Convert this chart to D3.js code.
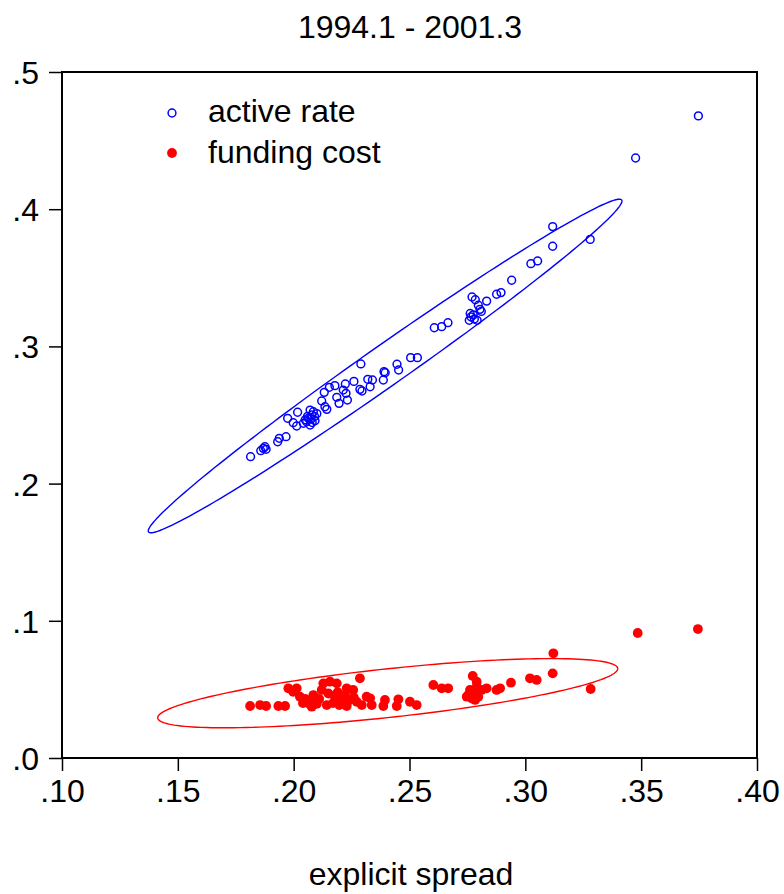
<!DOCTYPE html>
<html>
<head>
<meta charset="utf-8">
<script src="https://cdn.jsdelivr.net/npm/d3@7"></script>
<style>
  body { margin: 0; background: #fff; }
  text { font-family: "Liberation Sans", Arial, sans-serif; }
</style>
</head>
<body>
<div id="chart"></div>
<script>
// Scatter of active rate and funding cost against explicit spread
const title = "1994.1 - 2001.3";
const xLabel = "explicit spread";
const xTicks = [0.10, 0.15, 0.20, 0.25, 0.30, 0.35, 0.40];
const yTicks = [0.0, 0.1, 0.2, 0.3, 0.4, 0.5];

// [explicit spread, active rate]
const activeRate = [
    [0.3118, 0.3873], [0.3280, 0.3780], [0.3118, 0.3730], [0.3024, 0.3603], [0.3053, 0.3623],
    [0.2941, 0.3482], [0.2876, 0.3380], [0.2895, 0.3392],
    [0.2770, 0.3360], [0.2784, 0.3340], [0.2833, 0.3330], [0.2797, 0.3300], [0.2804, 0.3270],
    [0.2810, 0.3255], [0.2762, 0.3240], [0.2766, 0.3215], [0.2758, 0.3190], [0.2780, 0.3200],
    [0.2792, 0.3190], [0.2775, 0.3230],
    [0.2607, 0.3136], [0.2639, 0.3144], [0.2666, 0.3173],
    [0.2505, 0.2918], [0.2534, 0.2918], [0.2446, 0.2870], [0.2453, 0.2828], [0.2290, 0.2872],
    [0.2390, 0.2816], [0.2395, 0.2808], [0.2387, 0.2755], [0.2320, 0.2760], [0.2340, 0.2755],
    [0.2330, 0.2706], [0.2260, 0.2745], [0.2286, 0.2687], [0.2295, 0.2675], [0.2223, 0.2726],
    [0.2178, 0.2714], [0.2154, 0.2702], [0.2132, 0.2665], [0.2214, 0.2682], [0.2226, 0.2658],
    [0.2186, 0.2629], [0.2232, 0.2609], [0.2196, 0.2585], [0.2121, 0.2602], [0.2143, 0.2541],
    [0.2135, 0.2560], [0.2017, 0.2520], [0.2071, 0.2536], [0.2085, 0.2524], [0.2078, 0.2500],
    [0.2063, 0.2476], [0.2056, 0.2451], [0.2071, 0.2427], [0.2092, 0.2459], [0.2042, 0.2440],
    [0.2013, 0.2420], [0.1998, 0.2444], [0.1974, 0.2476],
    [0.2060, 0.2490], [0.2075, 0.2470], [0.2090, 0.2490], [0.2050, 0.2465], [0.2100, 0.2510],
    [0.2080, 0.2445],
    [0.1967, 0.2342], [0.1938, 0.2330], [0.1931, 0.2305],
    [0.1876, 0.2269], [0.1869, 0.2257], [0.1858, 0.2240], [0.1881, 0.2250], [0.1814, 0.2196],
    [0.3476, 0.4373], [0.3747, 0.4680]
];

// [explicit spread, funding cost]
const fundingCost = [
    [0.3121, 0.0763], [0.3118, 0.0617], [0.3282, 0.0503], [0.3020, 0.0581], [0.3049, 0.0569],
    [0.2938, 0.0549], [0.2891, 0.0508], [0.2876, 0.0496],
    [0.2773, 0.0598], [0.2790, 0.0556], [0.2833, 0.0508], [0.2812, 0.0496], [0.2761, 0.0496],
    [0.2754, 0.0459], [0.2768, 0.0435], [0.2783, 0.0423], [0.2797, 0.0447], [0.2747, 0.0447],
    [0.2776, 0.0483], [0.2790, 0.0520],
    [0.2603, 0.0532], [0.2639, 0.0508], [0.2667, 0.0508], [0.2531, 0.0386], [0.2502, 0.0410],
    [0.2452, 0.0428], [0.2445, 0.0379], [0.2394, 0.0423], [0.2387, 0.0379],
    [0.2330, 0.0435], [0.2337, 0.0386], [0.2315, 0.0447], [0.2286, 0.0581], [0.2257, 0.0496],
    [0.2294, 0.0386], [0.2272, 0.0410],
    [0.2229, 0.0508], [0.2222, 0.0459], [0.2207, 0.0423], [0.2229, 0.0379], [0.2197, 0.0386],
    [0.2186, 0.0544], [0.2157, 0.0556], [0.2128, 0.0544], [0.2121, 0.0496], [0.2143, 0.0386],
    [0.2178, 0.0447],
    [0.2150, 0.0470], [0.2200, 0.0440], [0.2240, 0.0420], [0.2110, 0.0430], [0.2170, 0.0400],
    [0.2260, 0.0440], [0.2040, 0.0400], [0.2190, 0.0480],
    [0.2085, 0.0459], [0.2099, 0.0423], [0.2063, 0.0399], [0.2078, 0.0374], [0.2049, 0.0423],
    [0.2027, 0.0447],
    [0.2060, 0.0420], [0.2075, 0.0400], [0.2090, 0.0410], [0.2050, 0.0430], [0.2100, 0.0395],
    [0.2080, 0.0385],
    [0.2013, 0.0508], [0.1977, 0.0508], [0.1998, 0.0483], [0.1963, 0.0379], [0.1934, 0.0379],
    [0.1881, 0.0379], [0.1855, 0.0386], [0.1812, 0.0379],
    [0.3485, 0.0911], [0.3745, 0.0940]
];

const width = 784, height = 894;
const margin = { top: 72, right: 27, bottom: 136, left: 62 };
const fontSize = "32px";

const svg = d3.select("#chart").append("svg")
    .attr("width", width)
    .attr("height", height);

const x = d3.scaleLinear().domain([0.10, 0.40]).range([margin.left, width - margin.right]);
const y = d3.scaleLinear().domain([0.0, 0.5]).range([height - margin.bottom, margin.top]);

const fmt = d => d3.format(".2f")(d).replace(/^0/, "");
const fmtY = d => d3.format(".1f")(d).replace(/^0/, "");

// Axes (ticks outside the frame)
const xAxis = svg.append("g")
    .attr("transform", `translate(0,${height - margin.bottom})`)
    .call(d3.axisBottom(x).tickValues(xTicks).tickFormat(fmt).tickSize(13).tickPadding(8));
const yAxis = svg.append("g")
    .attr("transform", `translate(${margin.left},0)`)
    .call(d3.axisLeft(y).tickValues(yTicks).tickFormat(fmtY).tickSize(13).tickPadding(10));

[xAxis, yAxis].forEach(g => {
    g.select(".domain").remove();
    g.selectAll(".tick line").attr("stroke", "#000").attr("stroke-width", 1.5);
    g.selectAll(".tick text").attr("font-size", fontSize).attr("fill", "#000")
        .attr("font-family", "'Liberation Sans', Arial, sans-serif");
});
yAxis.selectAll(".tick text").attr("dy", "0.36em");

// Plot frame
svg.append("rect")
    .attr("x", margin.left).attr("y", margin.top)
    .attr("width", width - margin.left - margin.right)
    .attr("height", height - margin.top - margin.bottom)
    .attr("fill", "none").attr("stroke", "#000").attr("stroke-width", 2);

// 95% concentration ellipse computed from the data
function ellipsePoints(data) {
    const mx = d3.mean(data, d => d[0]), my = d3.mean(data, d => d[1]);
    const n = data.length;
    let sxx = 0, syy = 0, sxy = 0;
    data.forEach(d => {
        sxx += (d[0] - mx) ** 2;
        syy += (d[1] - my) ** 2;
        sxy += (d[0] - mx) * (d[1] - my);
    });
    sxx /= n - 1; syy /= n - 1; sxy /= n - 1;
    const k = Math.sqrt(5.991);
    // cholesky
    const l11 = Math.sqrt(sxx), l21 = sxy / l11, l22 = Math.sqrt(syy - l21 * l21);
    return d3.range(0, 361, 2).map(a => {
        const t = a * Math.PI / 180, c = Math.cos(t), s = Math.sin(t);
        return [mx + k * l11 * c, my + k * (l21 * c + l22 * s)];
    });
}

const line = d3.line().x(d => x(d[0])).y(d => y(d[1]));

svg.append("path")
    .attr("d", line(ellipsePoints(activeRate)))
    .attr("fill", "none").attr("stroke", "#0000ff").attr("stroke-width", 1.4);
svg.append("path")
    .attr("d", line(ellipsePoints(fundingCost)))
    .attr("fill", "none").attr("stroke", "#ff0000").attr("stroke-width", 1.4);

// Points
svg.append("g").selectAll("circle")
    .data(activeRate)
    .enter()
    .append("circle")
    .attr("cx", d => x(d[0])).attr("cy", d => y(d[1]))
    .attr("r", 3.9)
    .attr("fill", "none").attr("stroke", "#0000ff").attr("stroke-width", 1.5);

svg.append("g").selectAll("circle")
    .data(fundingCost)
    .enter()
    .append("circle")
    .attr("cx", d => x(d[0])).attr("cy", d => y(d[1]))
    .attr("r", 4.9)
    .attr("fill", "#ff0000");

// Legend
const legend = svg.append("g");
legend.append("circle").attr("cx", 172).attr("cy", 113).attr("r", 3.9)
    .attr("fill", "none").attr("stroke", "#0000ff").attr("stroke-width", 1.5);
legend.append("text").attr("x", 208).attr("y", 122).attr("font-size", fontSize).text("active rate");
legend.append("circle").attr("cx", 172).attr("cy", 153).attr("r", 4.9).attr("fill", "#ff0000");
legend.append("text").attr("x", 208).attr("y", 163).attr("font-size", fontSize).text("funding cost");

// Title and x label
svg.append("text")
    .attr("x", 410).attr("y", 38)
    .attr("text-anchor", "middle").attr("font-size", fontSize)
    .text(title);
svg.append("text")
    .attr("x", 411).attr("y", 885)
    .attr("text-anchor", "middle").attr("font-size", fontSize)
    .text(xLabel);
</script>
</body>
</html>
